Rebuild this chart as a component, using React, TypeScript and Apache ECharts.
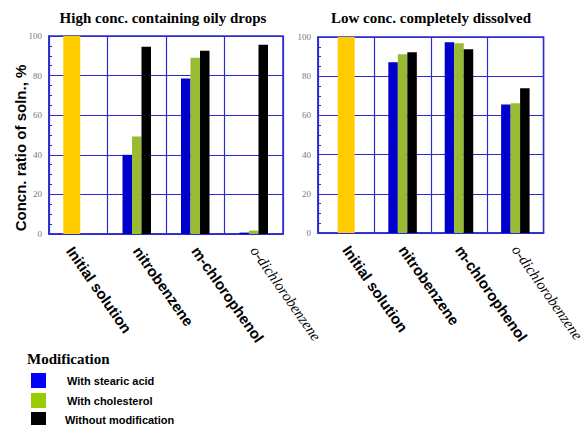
import React, { useEffect, useRef } from "react";
import * as echarts from "echarts";

const categories = ["Initial solution", "nitrobenzene", "m-chlorophenol", "o-dichlorobenzene"];
const seriesNames = ["With stearic acid", "With cholesterol", "Without modification"];

const highInitial = [100, "-", "-", "-"];
const highStearic = ["-", 40, 78.5, 0.7];
const highCholesterol = ["-", 49.2, 89, 1.7];
const highWithout = ["-", 94.6, 92.5, 95.6];

const lowInitial = [100, "-", "-", "-"];
const lowStearic = ["-", 87.1, 97.3, 65.6];
const lowCholesterol = ["-", 91.2, 96.8, 66.2];
const lowWithout = ["-", 92.2, 93.7, 73.8];

const titles = ["High conc. containing oily drops", "Low conc. completely dissolved"];
const yAxisName = "Concn. ratio of soln., %";
const legendTitle = "Modification";

const barColors = ["#0000cc", "#99bb33", "#000000"];
const legendColors = ["#0000ff", "#99cc00", "#000000"];
const yellow = "#ffcc00";
const blueLine = "#2b2bd0";

const SERIF = "Liberation Serif, Times New Roman, serif";
const SANS = "Liberation Sans, Arial, sans-serif";
const LABEL_ROT = -55;
const LABEL_MARGIN = 14;
const LABEL_SIZE = 15;

export default function App() {
  const ref = useRef<HTMLDivElement>(null);
  useEffect(() => {
    document.body.style.margin = "0";
    const chart = echarts.init(ref.current!, null, { renderer: "svg" });

    const xMain = (gridIndex: number, hideFirst: boolean) => ({
      type: "category",
      gridIndex,
      data: categories,
      axisLine: { show: true, lineStyle: { color: blueLine, width: 1.5 } },
      axisTick: { show: false },
      splitLine: { show: true, lineStyle: { color: blueLine, width: 1.2 } },
      axisLabel: {
        rotate: LABEL_ROT,
        margin: LABEL_MARGIN,
        interval: 0,
        color: "#000",
        fontFamily: SANS,
        fontWeight: "bold",
        fontSize: LABEL_SIZE,
        formatter: (v: string, idx: number) =>
          hideFirst && idx === 0 ? "" : v === "o-dichlorobenzene" ? "{it|" + v + "}" : v,
        rich: {
          it: {
            fontFamily: SERIF,
            fontStyle: "italic",
            fontWeight: "normal",
            fontSize: 15,
            color: "#000",
          },
        },
      },
    });
    const xHidden = (gridIndex: number) => ({
      type: "category",
      gridIndex,
      data: categories,
      show: false,
    });
    const yAx = (gridIndex: number) => ({
      type: "value",
      gridIndex,
      min: 0,
      max: 100,
      interval: 20,
      axisLine: { show: true, lineStyle: { color: blueLine, width: 1.5 } },
      axisTick: { show: true, inside: true, length: 3, lineStyle: { color: blueLine } },
      minorTick: { show: true, splitNumber: 4, length: 3, lineStyle: { color: blueLine } },
      splitLine: { show: true, lineStyle: { color: blueLine, width: 1.2 } },
      axisLabel: {
        color: "#777",
        fontFamily: SERIF,
        fontSize: 9,
        margin: 7,
      },
    });

    const bars = (xi: number, yi: number, data: any[][]) =>
      data.map((d, i) => ({
        type: "bar",
        name: seriesNames[i],
        xAxisIndex: xi,
        yAxisIndex: yi,
        data: d,
        barWidth: 9.5,
        barGap: "0%",
        itemStyle: { color: barColors[i] },
      }));

    const legendGraphics: any[] = [
      {
        type: "text",
        x: 27,
        y: 359,
        style: {
          text: legendTitle,
          fontFamily: SERIF,
          fontWeight: "bold",
          fontSize: 15,
          fill: "#000",
          verticalAlign: "middle",
          align: "left",
        },
      },
    ];
    const legendY = [373, 393, 412];
    const legendTextX = [67, 67, 65];
    seriesNames.forEach((n, i) => {
      legendGraphics.push({
        type: "rect",
        shape: { x: 31, y: legendY[i], width: 15, height: 15 },
        style: { fill: legendColors[i] },
      });
      legendGraphics.push({
        type: "text",
        x: legendTextX[i],
        y: legendY[i] + 7.5,
        style: {
          text: n,
          fontFamily: SANS,
          fontWeight: "bold",
          fontSize: 11,
          fill: "#000",
          verticalAlign: "middle",
          align: "left",
        },
      });
    });

    const titleText = (x: number, text: string) => ({
      type: "text",
      x,
      y: 18,
      style: {
        text,
        fontFamily: SERIF,
        fontWeight: "bold",
        fontSize: 15,
        fill: "#000",
        align: "center",
        verticalAlign: "middle",
      },
    });

    chart.setOption({
      animation: false,
      grid: [
        { left: 49, top: 36, width: 234, height: 198, show: true, borderColor: blueLine, borderWidth: 1.5 },
        { left: 318, top: 37, width: 233, height: 196, show: true, borderColor: blueLine, borderWidth: 1.5 },
      ],
      xAxis: [xMain(0, true), xHidden(0), xMain(1, false), xHidden(1)],
      yAxis: [yAx(0), yAx(1)],
      series: [
        {
          type: "bar",
          name: "Initial",
          xAxisIndex: 1,
          yAxisIndex: 0,
          data: highInitial,
          barWidth: 17,
          barGap: "0%",
          itemStyle: { color: yellow },
        },
        {
          type: "bar",
          name: "spacer",
          xAxisIndex: 1,
          yAxisIndex: 0,
          data: ["-", "-", "-", "-"],
          barWidth: 13,
          barGap: "0%",
          itemStyle: { color: "transparent" },
        },
        ...bars(0, 0, [highStearic, highCholesterol, highWithout]),
        {
          type: "bar",
          name: "Initial ",
          xAxisIndex: 3,
          yAxisIndex: 1,
          data: lowInitial,
          barWidth: 17,
          itemStyle: { color: yellow },
        },
        ...bars(2, 1, [lowStearic, lowCholesterol, lowWithout]),
      ],
      graphic: [
        titleText(163, titles[0]),
        titleText(431, titles[1]),
        {
          type: "text",
          x: 70,
          y: 234 + LABEL_MARGIN,
          rotation: (LABEL_ROT * Math.PI) / 180,
          style: {
            text: categories[0],
            fontFamily: SANS,
            fontWeight: "bold",
            fontSize: LABEL_SIZE,
            fill: "#000",
            align: "left",
            verticalAlign: "middle",
          },
        },
        {
          type: "text",
          x: 20,
          y: 148,
          rotation: Math.PI / 2,
          style: {
            text: yAxisName,
            fontFamily: SANS,
            fontWeight: "bold",
            fontSize: 15,
            fill: "#000",
            align: "center",
            verticalAlign: "middle",
          },
        },
        ...legendGraphics,
      ],
    });
    return () => chart.dispose();
  }, []);
  return (
    <div
      ref={ref}
      style={{ width: 586, height: 425, position: "absolute", left: 0, top: 0 }}
    />
  );
}
